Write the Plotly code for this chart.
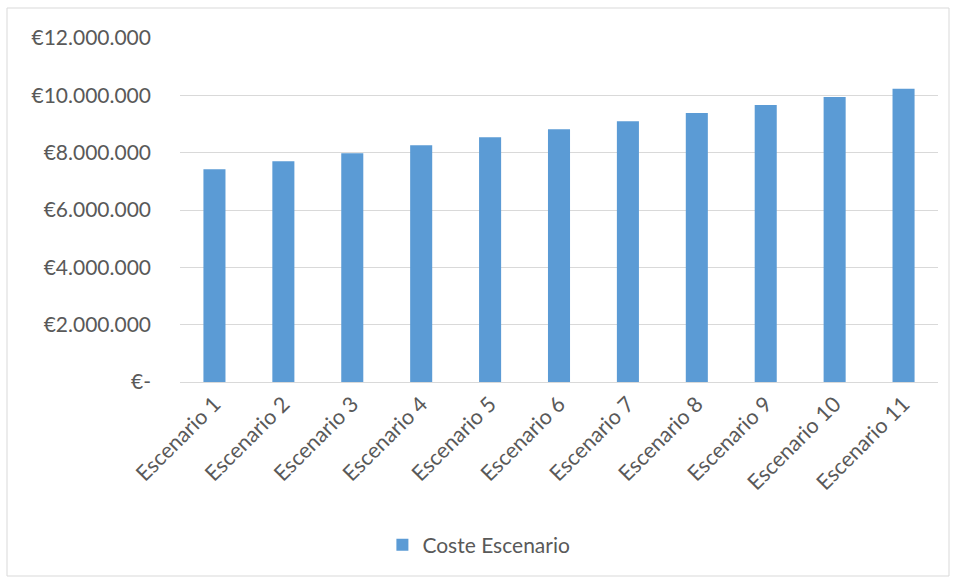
import plotly.graph_objects as go

# Scenario cost data
escenarios = ["Escenario 1", "Escenario 2", "Escenario 3", "Escenario 4", "Escenario 5",
              "Escenario 6", "Escenario 7", "Escenario 8", "Escenario 9", "Escenario 10",
              "Escenario 11"]
coste = [7420000, 7700000, 7980000, 8260000, 8540000, 8820000,
         9100000, 9380000, 9660000, 9940000, 10230000]

y_ticks = [0, 2000000, 4000000, 6000000, 8000000, 10000000, 12000000]
y_labels = ["€-", "€2.000.000", "€4.000.000", "€6.000.000", "€8.000.000",
            "€10.000.000", "€12.000.000"]

FONT = "Lato, 'Open Sans', sans-serif"
TXT = "#595959"
GRID = "#d9d9d9"

fig = go.Figure()
fig.add_trace(go.Bar(
    x=escenarios, y=coste, name="Coste Escenario",
    marker=dict(color="#5b9bd5", line=dict(width=0)),
    showlegend=True,
))

W, H = 956, 578
ml, mr, mt, mb = 180, 18, 38, 196

fig.update_layout(
    width=W, height=H,
    margin=dict(l=ml, r=mr, t=mt, b=mb),
    paper_bgcolor="white", plot_bgcolor="white",
    bargap=0.68,
    font=dict(family=FONT, color=TXT, size=21),
    showlegend=True,
    legend=dict(orientation="h", xref="container", yref="container",
                x=0.40, y=0.057, xanchor="left", yanchor="middle",
                font=dict(size=21, color=TXT), itemwidth=30),
    xaxis=dict(showgrid=False, tickangle=-45, ticks="", showline=True,
               linecolor=GRID, linewidth=1,
               tickfont=dict(size=21.5, color=TXT)),
    yaxis=dict(range=[0, 12000000], tickvals=y_ticks, ticktext=y_labels,
               showgrid=True, gridcolor=GRID, gridwidth=1, zeroline=False,
               showline=False, ticks="", ticklabelstandoff=28,
               tickfont=dict(size=21, color=TXT)),
)

# chart-area border
pw = W - ml - mr
ph = H - mt - mb
def px(xp):
    return (xp - ml) / pw
def py(yp):
    return (H - mb - yp) / ph
fig.add_shape(type="rect", xref="paper", yref="paper",
              x0=px(7), x1=px(949), y0=py(576), y1=py(8),
              line=dict(color=GRID, width=1), fillcolor="rgba(0,0,0,0)", layer="below")

fig.write_html("out.html")
